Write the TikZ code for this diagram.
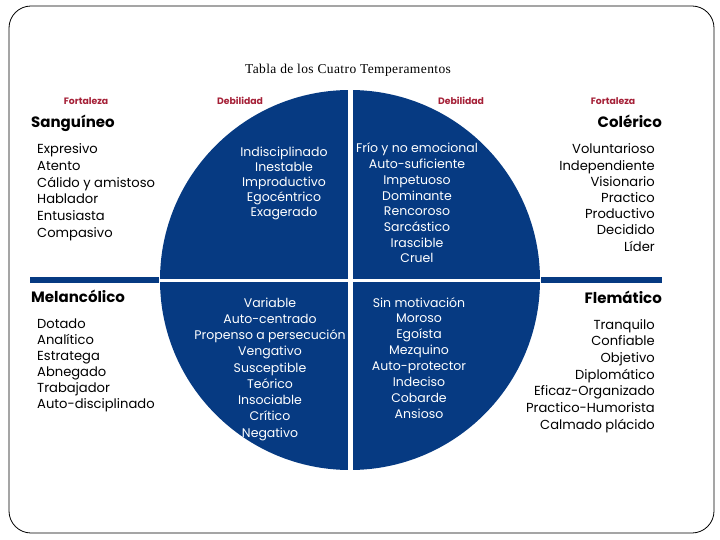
\documentclass[tikz,border=0pt]{standalone}
\usepackage{fontspec}
\setmainfont{Poppins}
\newfontfamily\titlefont[LetterSpace=3]{Liberation Serif}
\definecolor{tblue}{RGB}{6,58,130}
\definecolor{tred}{RGB}{165,32,55}
\begin{document}
\begin{tikzpicture}[x=1pt,y=-1pt,
  item/.style={font=\fontsize{13.1}{15}\selectfont, inner sep=0pt},
  qitem/.style={font=\fontsize{12.5}{15}\selectfont, inner sep=0pt, text=white, anchor=base},
  head/.style={font=\fontsize{15}{17}\bfseries\selectfont, inner sep=0pt},
  lab/.style={font=\fontsize{9.3}{11}\bfseries\selectfont, inner sep=0pt, text=tred, anchor=base},
  bar/.style={draw=tblue, line width=6pt},
  gap/.style={draw=white}]
\useasboundingbox (0,0) rectangle (720,540);
\draw[rounded corners=22pt, line width=0.8pt] (9,6) rectangle (714,533);
% title
\node[font=\titlefont\fontsize{13.5}{15}\selectfont, inner sep=0pt, anchor=base] (title) at (348,74) {Tabla de los Cuatro Temperamentos};
% circle
\fill[tblue] (350,280) circle (190pt);
\coordinate (ctop) at (350.5,85);
\coordinate (cbot) at (350.5,475);
\coordinate (cleft) at (155,280.5);
\coordinate (cright) at (545,280.5);
\draw[gap, line width=4.5pt] (ctop) -- (cbot);
\draw[gap, line width=3pt] (cleft) -- (cright);
% side bars
\coordinate (lbarA) at (30,280);
\coordinate (lbarB) at (159,280);
\coordinate (rbarA) at (541,280);
\coordinate (rbarB) at (662,280);
\draw[bar] (lbarA) -- (lbarB);
\draw[bar] (rbarA) -- (rbarB);
% labels
\node[lab] (f1) at (86,105) {Fortaleza};
\node[lab] (d1) at (240,105) {Debilidad};
\node[lab] (d2) at (461,105) {Debilidad};
\node[lab] (f2) at (613,105) {Fortaleza};
% headers
\node[head, anchor=base west] (sang) at (31,128) {Sanguíneo};
\node[head, anchor=base east] (cole) at (662,128) {Colérico};
\node[head, anchor=base west] (mela) at (31,302) {Melancólico};
\node[head, anchor=base east] (flem) at (662,303) {Flemático};
% left top list
\foreach \t [count=\i] in {Expresivo,Atento,Cálido y amistoso,Hablador,Entusiasta,Compasivo}
  \node[item, anchor=base west] (sl\i) at (37,{154+16.6*(\i-1)}) {\t};
% left bottom list
\foreach \t [count=\i] in {Dotado,Analítico,Estratega,Abnegado,Trabajador,Auto-disciplinado}
  \node[item, anchor=base west] (ml\i) at (37,{328+16*(\i-1)}) {\t};
% right top list
\foreach \t [count=\i] in {Voluntarioso,Independiente,Visionario,Practico,Productivo,Decidido,Líder}
  \node[item, anchor=base east] (cl\i) at (655,{154+16.2*(\i-1)}) {\t};
% right bottom list
\foreach \t [count=\i] in {Tranquilo,Confiable,Objetivo,Diplomático,Eficaz-Organizado,Practico-Humorista,Calmado plácido}
  \node[item, anchor=base east] (fl\i) at (655,{329+16.7*(\i-1)}) {\t};
% quadrant top-left
\foreach \t [count=\i] in {Indisciplinado,Inestable,Improductivo,Egocéntrico,Exagerado}
  \node[qitem] (q1\i) at (284,{157+15*(\i-1)}) {\t};
% quadrant top-right
\foreach \t [count=\i] in {Frío y no emocional,Auto-suficiente,Impetuoso,Dominante,Rencoroso,Sarcástico,Irascible,Cruel}
  \node[qitem] (q2\i) at (417,{153+15.7*(\i-1)}) {\t};
% quadrant bottom-left
\foreach \t [count=\i] in {Variable,Auto-centrado,Propenso a persecución,Vengativo,Susceptible,Teórico,Insociable,Crítico,Negativo}
  \node[qitem] (q3\i) at (270,{307+16.25*(\i-1)}) {\t};
% quadrant bottom-right
\foreach \t [count=\i] in {Sin motivación,Moroso,Egoísta,Mezquino,Auto-protector,Indeciso,Cobarde,Ansioso}
  \node[qitem] (q4\i) at (419,{307+15.9*(\i-1)}) {\t};
\end{tikzpicture}
\end{document}
